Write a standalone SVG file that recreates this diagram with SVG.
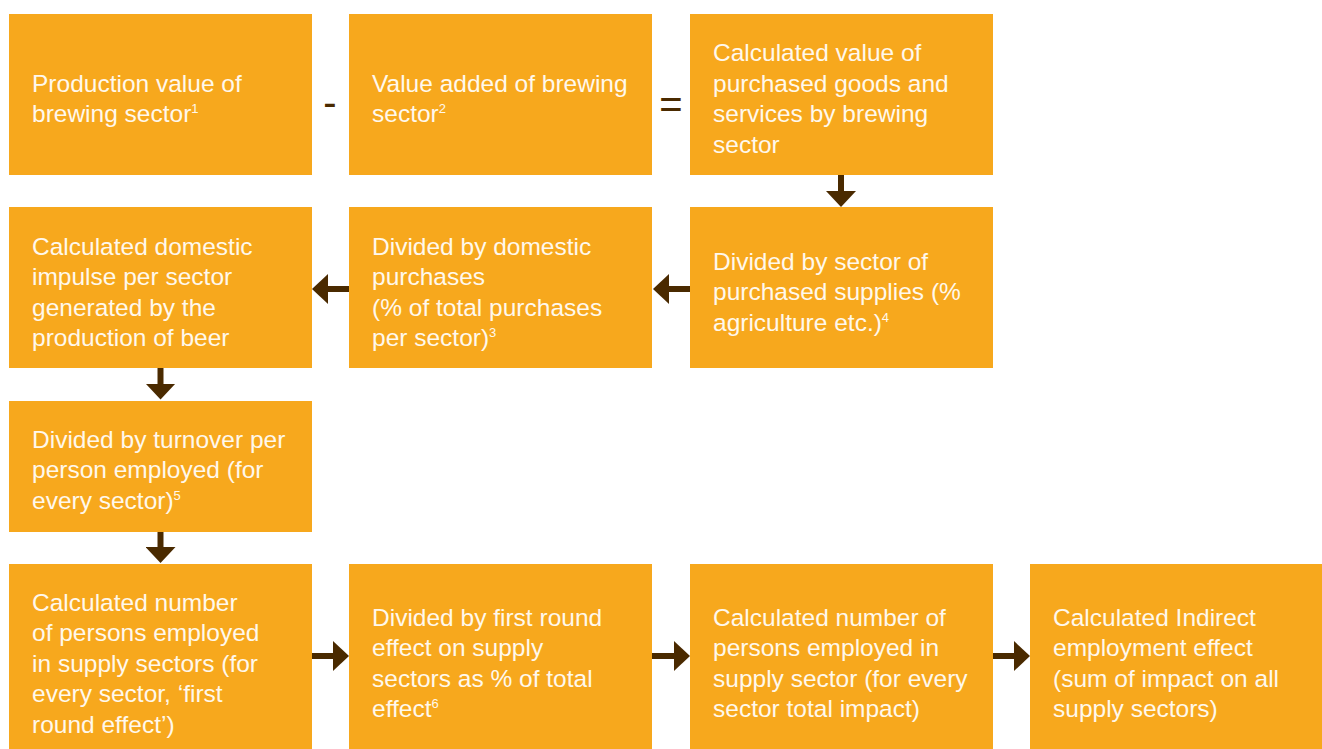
<svg xmlns="http://www.w3.org/2000/svg" width="1322" height="749" viewBox="0 0 1322 749">
  <style>
    .box { fill: #F7A81D; }
    .t { font-family: "Liberation Sans", Arial, sans-serif; font-size: 24.5px; fill: #FFF8EC; }
    .sup { font-size: 13px; }
    .op { font-family: "Liberation Sans", Arial, sans-serif; fill: #4A2A00; text-anchor: middle; }
    .arrow { stroke: #4A2A00; stroke-width: 6; fill: none; marker-end: url(#head); }
  </style>
  <defs>
    <marker id="head" markerUnits="userSpaceOnUse" markerWidth="16" markerHeight="30" refX="12" refY="15" orient="auto" viewBox="0 0 16 30">
      <path d="M0,0 L16,15 L0,30 Z" fill="#4A2A00"/>
    </marker>
  </defs>
  <rect width="1322" height="749" fill="#FFFFFF"/>

  <g id="n1">
    <rect class="box" x="9" y="14" width="303" height="161"/>
    <text class="t" x="32" y="92">Production value of<tspan x="32" y="122">brewing sector</tspan><tspan class="sup" dy="-9">1</tspan></text>
  </g>
  <g id="op-minus">
    <text class="op" x="330" y="116" font-size="40">-</text>
  </g>
  <g id="n2">
    <rect class="box" x="349" y="14" width="303" height="161"/>
    <text class="t" x="372" y="92">Value added of brewing<tspan x="372" y="122">sector</tspan><tspan class="sup" dy="-9">2</tspan></text>
  </g>
  <g id="op-equals">
    <text class="op" x="671" y="118" font-size="40">=</text>
  </g>
  <g id="n3">
    <rect class="box" x="690" y="14" width="303" height="161"/>
    <text class="t" x="713" y="61">Calculated value of<tspan x="713" y="92">purchased goods and</tspan><tspan x="713" y="122">services by brewing</tspan><tspan x="713" y="153">sector</tspan></text>
  </g>
  <g id="n4">
    <rect class="box" x="690" y="207" width="303" height="161"/>
    <text class="t" x="713" y="270">Divided by sector of<tspan x="713" y="300">purchased supplies (%</tspan><tspan x="713" y="331">agriculture etc.)</tspan><tspan class="sup" dy="-9">4</tspan></text>
  </g>
  <g id="n5">
    <rect class="box" x="349" y="207" width="303" height="161"/>
    <text class="t" x="372" y="255">Divided by domestic<tspan x="372" y="285">purchases</tspan><tspan x="372" y="316">(% of total purchases</tspan><tspan x="372" y="346">per sector)</tspan><tspan class="sup" dy="-9">3</tspan></text>
  </g>
  <g id="n6">
    <rect class="box" x="9" y="207" width="303" height="161"/>
    <text class="t" x="32" y="255">Calculated domestic<tspan x="32" y="285">impulse per sector</tspan><tspan x="32" y="316">generated by the</tspan><tspan x="32" y="346">production of beer</tspan></text>
  </g>
  <g id="n7">
    <rect class="box" x="9" y="401" width="303" height="131"/>
    <text class="t" x="32" y="448">Divided by turnover per<tspan x="32" y="478">person employed (for</tspan><tspan x="32" y="509">every sector)</tspan><tspan class="sup" dy="-9">5</tspan></text>
  </g>
  <g id="n8">
    <rect class="box" x="9" y="564" width="303" height="185"/>
    <text class="t" x="32" y="611">Calculated number<tspan x="32" y="641">of persons employed</tspan><tspan x="32" y="672">in supply sectors (for</tspan><tspan x="32" y="702">every sector, ‘first</tspan><tspan x="32" y="733">round effect’)</tspan></text>
  </g>
  <g id="n9">
    <rect class="box" x="349" y="564" width="303" height="185"/>
    <text class="t" x="372" y="626">Divided by first round<tspan x="372" y="656">effect on supply</tspan><tspan x="372" y="687">sectors as % of total</tspan><tspan x="372" y="717">effect</tspan><tspan class="sup" dy="-9">6</tspan></text>
  </g>
  <g id="n10">
    <rect class="box" x="690" y="564" width="303" height="185"/>
    <text class="t" x="713" y="626">Calculated number of<tspan x="713" y="656">persons employed in</tspan><tspan x="713" y="687">supply sector (for every</tspan><tspan x="713" y="717">sector total impact)</tspan></text>
  </g>
  <g id="n11">
    <rect class="box" x="1030" y="564" width="292" height="185"/>
    <text class="t" x="1053" y="626">Calculated Indirect<tspan x="1053" y="656">employment effect</tspan><tspan x="1053" y="687">(sum of impact on all</tspan><tspan x="1053" y="717">supply sectors)</tspan></text>
  </g>

  <g id="connectors">
    <line class="arrow" x1="841" y1="175" x2="841" y2="203"/>
    <line class="arrow" x1="690" y1="289" x2="657" y2="289"/>
    <line class="arrow" x1="349" y1="289" x2="316" y2="289"/>
    <line class="arrow" x1="160.5" y1="368" x2="160.5" y2="395.5"/>
    <line class="arrow" x1="160.5" y1="532" x2="160.5" y2="559"/>
    <line class="arrow" x1="312" y1="656" x2="345" y2="656"/>
    <line class="arrow" x1="652" y1="656" x2="686" y2="656"/>
    <line class="arrow" x1="993" y1="656" x2="1026" y2="656"/>
  </g>
</svg>
